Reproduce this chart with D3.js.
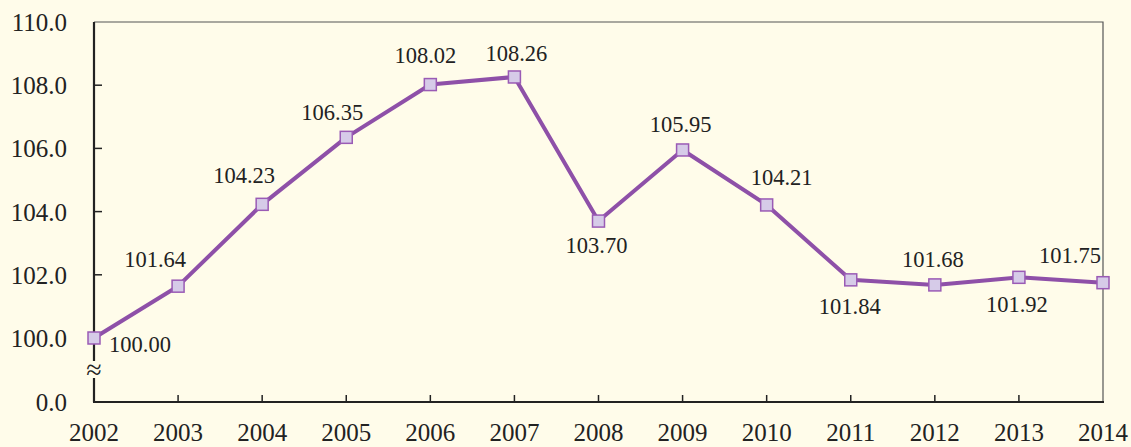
<!DOCTYPE html>
<html>
<head>
<meta charset="utf-8">
<script src="https://cdn.jsdelivr.net/npm/d3@7"></script>
<style>
  html, body { margin: 0; padding: 0; background: #fffcea; }
  svg { display: block; font-family: "Liberation Serif", "Times New Roman", serif; }
</style>
</head>
<body>
<svg id="chart" width="1131" height="447"></svg>
<script>
const years = ["2002", "2003", "2004", "2005", "2006", "2007", "2008", "2009", "2010", "2011", "2012", "2013", "2014"];
const values = [100.00, 101.64, 104.23, 106.35, 108.02, 108.26, 103.70, 105.95, 104.21, 101.84, 101.68, 101.92, 101.75];
const yTicks = [0, 100, 102, 104, 106, 108, 110];
// value label nudges relative to each point (layout only)
const labelDx = [15, -23, -18, -14, -5, 2, -2, -2, 15, -1, -2, -2, -33];
const labelDy = [14, -19, -21, -17, -22, -16, 32, -18, -20, 34, -18, 35, -20];

const width = 1131, height = 447;
const margin = { left: 94, right: 28, top: 22, bottom: 45 };

const svg = d3.select("#chart");

const x = d3.scalePoint()
  .domain(years)
  .range([margin.left, width - margin.right]);

// broken axis: 0..100 squeezed into the bottom strip
const y = d3.scaleLinear()
  .domain([0, 100, 110])
  .range([height - margin.bottom, 338, margin.top]);

const x0 = margin.left, x1 = width - margin.right;
const yTop = margin.top, yBot = height - margin.bottom;

// frame: thin top and right
svg.append("path")
  .attr("d", `M${x0},${yTop}H${x1}V${yBot}`)
  .attr("fill", "none")
  .attr("stroke", "#555")
  .attr("stroke-width", 1.2);

// left axis with a break
const breakY = 370;
svg.append("path")
  .attr("d", `M${x0},${yTop}V${breakY - 9}M${x0},${breakY + 8}V${yBot}`)
  .attr("fill", "none")
  .attr("stroke", "#222")
  .attr("stroke-width", 2.2);

svg.append("text")
  .attr("x", x0)
  .attr("y", breakY + 9)
  .attr("text-anchor", "middle")
  .attr("font-size", 28)
  .attr("fill", "#222")
  .text("≈");

// bottom axis
svg.append("path")
  .attr("d", `M${x0 - 1},${yBot}H${x1 + 1}`)
  .attr("stroke", "#222")
  .attr("stroke-width", 2.2);

// y ticks (inward) and labels
svg.selectAll("line.ytick")
  .data(yTicks.filter(d => d > 100 && d < 110))
  .join("line")
  .attr("class", "ytick")
  .attr("x1", x0).attr("x2", x0 + 8)
  .attr("y1", d => y(d)).attr("y2", d => y(d))
  .attr("stroke", "#222")
  .attr("stroke-width", 1.5);

svg.selectAll("text.ylab")
  .data(yTicks)
  .join("text")
  .attr("class", "ylab")
  .attr("x", 67)
  .attr("y", d => y(d) + 9)
  .attr("text-anchor", "end")
  .attr("font-size", 25)
  .attr("fill", "#222")
  .text(d => d3.format(".1f")(d));

// x ticks (inward) and labels
svg.selectAll("line.xtick")
  .data(years.slice(1, -1))
  .join("line")
  .attr("class", "xtick")
  .attr("x1", d => x(d)).attr("x2", d => x(d))
  .attr("y1", yBot).attr("y2", yBot - 7)
  .attr("stroke", "#222")
  .attr("stroke-width", 1.5);

svg.selectAll("text.xlab")
  .data(years)
  .join("text")
  .attr("class", "xlab")
  .attr("x", d => x(d))
  .attr("y", 441)
  .attr("text-anchor", "middle")
  .attr("font-size", 25)
  .attr("fill", "#222")
  .text(d => d);

// line
const pts = years.map((yr, i) => ({ yr, v: values[i], i }));

svg.append("path")
  .datum(pts)
  .attr("fill", "none")
  .attr("stroke", "#8e50a8")
  .attr("stroke-width", 4)
  .attr("stroke-linejoin", "round")
  .attr("d", d3.line().x(d => x(d.yr)).y(d => y(d.v)));

// markers
const s = 12;
svg.selectAll("rect.mk")
  .data(pts)
  .join("rect")
  .attr("class", "mk")
  .attr("x", d => x(d.yr) - s / 2)
  .attr("y", d => y(d.v) - s / 2)
  .attr("width", s).attr("height", s)
  .attr("fill", "#d6cbe8")
  .attr("stroke", "#9a5bb5")
  .attr("stroke-width", 1.5);

// value labels
svg.selectAll("text.vlab")
  .data(pts)
  .join("text")
  .attr("class", "vlab")
  .attr("font-size", 22.5)
  .attr("fill", "#222")
  .attr("text-anchor", d => d.i === 0 ? "start" : "middle")
  .attr("x", d => x(d.yr) + labelDx[d.i])
  .attr("y", d => y(d.v) + labelDy[d.i])
  .text(d => d3.format(".2f")(d.v));
</script>
</body>
</html>
